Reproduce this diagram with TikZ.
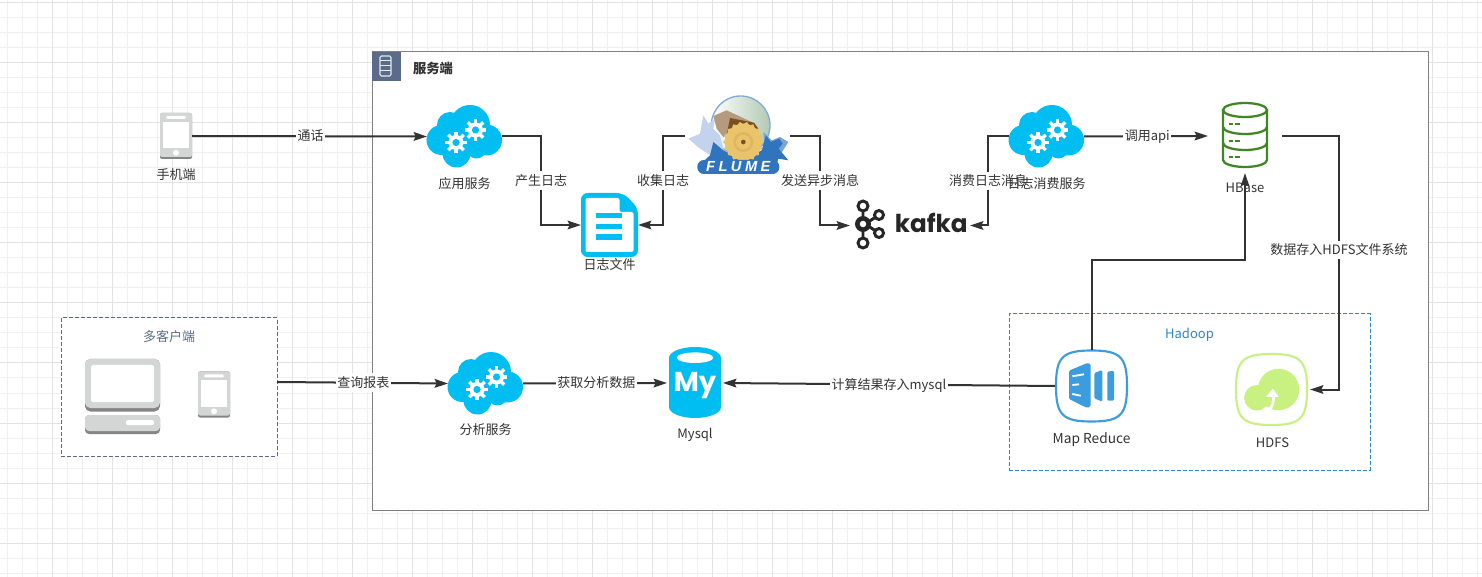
\documentclass[tikz,border=0pt]{standalone}
\usepackage{fontspec}
\setmainfont{Noto Sans CJK SC}
\newfontfamily\logofont{Liberation Sans}
\newfontfamily\kafkafont{Poppins}
\usepackage{xcolor}
\usepackage{tikz}
\usetikzlibrary{arrows.meta, positioning, calc}
\definecolor{cloudblue}{HTML}{00BEF2}
\definecolor{slateblue}{HTML}{5A6C8A}
\definecolor{linegrey}{HTML}{333333}
\definecolor{phonegrey}{HTML}{D4D5D5}
\definecolor{phonedark}{HTML}{858585}
\definecolor{hbasegreen}{HTML}{3F8624}
\definecolor{hadoopblue}{HTML}{2C88C9}
\definecolor{mrblue}{HTML}{3B9DDD}
\definecolor{hdfsgreen}{HTML}{C9F182}
\definecolor{flumeblue}{HTML}{2F74BD}
\definecolor{flumepale}{HTML}{C3D3EE}
\definecolor{flumetan}{HTML}{B59A7D}
\definecolor{flumebark}{HTML}{7A4F22}
\definecolor{flumewood}{HTML}{E9C46A}
\def\px{0.75pt}

\tikzset{
  gearicon/.pic={
    \fill[white] (0,0) circle (7.5);
    \foreach \a in {0,45,...,315} \draw[white, line width=2.4pt] (\a:6) -- (\a:10.8);
    \fill[cloudblue] (0,0) circle (3.6);
  },
  cloudicon/.pic={
    \foreach \cx/\cy/\cr in {5.5/-11.5/20, -14.5/-11.5/13, -23/3.5/15, 22/3.5/15.5, -8/17/14, 12/12/10}
      \fill[cloudblue] (\cx,\cy) circle (\cr);
    \fill[cloudblue] (-18,-8) rectangle (22,14);
    \pic at (-8.5,6) {gearicon};
    \pic at (11,-6.5) {gearicon};
  },
  phoneicon/.pic={
    \fill[phonedark, rounded corners=1.5pt] (-16,-23) rectangle (16,23);
    \fill[phonegrey, rounded corners=1.5pt] (-16,-23) rectangle (16,21);
    \fill[white] (-13,-14.3) rectangle (13,12.3);
    \fill[white, rounded corners=1pt] (-10,-20) rectangle (10,-17);
    \fill[white] (0,16.8) circle (3);
  },
  squircle/.pic={
    \draw[line width=1.6pt, pic actions] (0,-35.5) .. controls (29,-35.5) and (35.5,-29) .. (35.5,0)
      .. controls (35.5,29) and (29,35.5) .. (0,35.5) .. controls (-29,35.5) and (-35.5,29) .. (-35.5,0)
      .. controls (-35.5,-29) and (-29,-35.5) .. (0,-35.5) -- cycle;
  },
}

\begin{document}
\begin{tikzpicture}[
    x=\px, y=-\px,
    font=\fontsize{9.75pt}{12pt}\selectfont,
    gridminor/.style={draw=black!6, line width=\px},
    gridmajor/.style={draw=black!11, line width=\px},
    iconspot/.style 2 args={minimum width=#1*\px, minimum height=#2*\px, inner sep=0pt, outer sep=0pt},
    txt/.style={text=linegrey, inner sep=0pt, outer sep=0pt, text height=9.5pt, text depth=2.5pt, align=center},
    lbl/.style={txt, fill=white, inner sep=1pt},
    arr/.style={-{Stealth[length=10pt, width=6.5pt, inset=1.5pt]}, line width=1.5pt, linegrey},
]
\useasboundingbox (0,0) rectangle (1482,577);

% background grid
\foreach \x in {7,22,...,1477} \draw[gridminor] (\x,0) -- (\x,577);
\foreach \y in {3,18,...,573} \draw[gridminor] (0,\y) -- (1482,\y);
\foreach \x in {52,112,...,1462} \draw[gridmajor] (\x,0) -- (\x,577);
\foreach \y in {3,63,...,543} \draw[gridmajor] (0,\y) -- (1482,\y);

% frames
\node[iconspot={1056}{458}, draw=black!50, line width=\px, fill=white] (server) at (900,281) {};
\node[iconspot={29}{29}, fill=slateblue] (serverhead) at (386.5,66.5) {};
\draw[white!85!slateblue, line width=.8pt, rounded corners=1pt] (380,56) rectangle (391,76);
\foreach \y in {60,65,70} \draw[white!85!slateblue, line width=.7pt] (380,\y) -- (391,\y);
\node[txt, right=9pt of serverhead, yshift=-1.8pt, font=\bfseries] (serverlabel) {服务端};

\node[iconspot={216}{138}, draw=slateblue, line width=\px, dash pattern=on 3pt off 1.5pt, fill=white] (clients) at (169,387) {};
\node[txt, text=slateblue, below=8pt of clients.north] (clientslabel) {多客户端};
\node[iconspot={361}{156}, draw=hadoopblue, line width=\px, dash pattern=on 3pt off 1.5pt] (hadoop) at (1189.5,392) {};
\node[txt, text=hadoopblue, below=8.8pt of hadoop.north] (hadooplabel) {Hadoop};

% icon places
\node[iconspot={32}{46}] (phone) at (176,136) {};
\node[iconspot={75}{63}] (appsvc) at (464.5,136.5) {};
\node[iconspot={57}{64}] (logdoc) at (609.5,225) {};
\node[iconspot={105}{78}] (flume) at (737.5,136) {};
\node[iconspot={120}{54}] (kafka) at (910,225.5) {};
\node[iconspot={75}{63}] (logcons) at (1046.5,136.5) {};
\node[iconspot={74}{74}] (hbase) at (1245,136) {};
\node[iconspot={75}{63}] (anasvc) at (485.5,383.5) {};
\node[iconspot={56}{70}] (mysql) at (695,383) {};
\node[iconspot={73}{71}] (mapred) at (1091.5,386) {};
\node[iconspot={75}{71}] (hdfs) at (1272.5,389.5) {};

\pic at (phone) {phoneicon};
\pic at (214,394.5) {phoneicon};
\pic at (appsvc) {cloudicon};
\pic at (logcons) {cloudicon};
\pic at (anasvc) {cloudicon};

% desktop
\begin{scope}[shift={(122.5,396.5)}]
\fill[phonedark, rounded corners=4pt] (-37.5,-37.5) rectangle (37.5,15);
\fill[phonegrey, rounded corners=4pt] (-37.5,-37.5) rectangle (37.5,11.5);
\fill[white, rounded corners=1.5pt] (-31.5,-31.5) rectangle (31.5,5.5);
\fill[phonedark, rounded corners=3pt] (-37.5,18.5) rectangle (37.5,37.5);
\fill[phonegrey, rounded corners=3pt] (-37.5,18.5) rectangle (37.5,34.5);
\fill[white, rounded corners=1.5pt] (3.5,23.5) rectangle (31.5,28.5);
\end{scope}

% log file
\begin{scope}[shift={(logdoc)}]
\fill[cloudblue, rounded corners=5pt] (-28.5,-32) -- (14,-32) -- (28.5,-17) -- (28.5,32) -- (-28.5,32) -- cycle;
\fill[white, rounded corners=1.5pt] (-24,-27) -- (10,-27) -- (10,-13) -- (24,-13) -- (24,27) -- (-24,27) -- cycle;
\foreach \y in {-12,-1,9.5} \fill[cloudblue] (-13.5,\y) rectangle (12.5,\y+5.5);
\end{scope}

% flume logo
\begin{scope}[shift={(flume)}]
\begin{scope}[shift={(-57.5,-44)}, x=\px/3, y=-\px/3]
\shade[left color=white, right color=green!30!black!30, draw=flumeblue!60, line width=1pt] (182,100) circle (88);
\fill[flumepale] (25,140) -- (60,125) -- (70,70) -- (85,95) -- (105,80) -- (100,110) -- (120,130) -- (135,190) -- (100,195) -- (60,170) -- cycle;
\fill[flumetan] (100,72) -- (140,55) -- (215,90) -- (130,135) -- (110,110) -- cycle;
\fill[flumebark] (150,78) -- (222,92) -- (235,110) -- (140,130) -- cycle;
\fill[flumeblue!65!white] (250,120) -- (275,145) -- (300,135) -- (325,150) -- (300,190) -- (255,190) -- cycle;
\fill[flumeblue] (100,150) -- (130,175) -- (190,205) -- (245,175) -- (258,130) -- (272,150) -- (298,140) -- (308,155) -- (296,170) -- (325,205) -- (295,200) -- (290,218) -- (60,218) -- (90,190) -- cycle;
\fill[flumewood] (190,150) circle (55);
\foreach \a in {0,20,...,340} \fill[flumewood] ($(190,150)+(\a-9:54)$) -- ($(190,150)+(\a:61)$) -- ($(190,150)+(\a+9:54)$) -- cycle;
\draw[flumewood!80!brown, line width=2pt] (190,150) circle (26);
\fill[flumebark] (190,150) circle (7);
\end{scope}
\node[iconspot={82}{14}, fill=flumeblue, rounded corners=5pt, text=white, font=\logofont\bfseries\itshape\fontsize{11pt}{11pt}\selectfont] (flumename) at (0.8,31) {F\hspace{2.6pt}L\hspace{2.6pt}U\hspace{2.6pt}M\hspace{2.6pt}E};
\end{scope}

% kafka logo
\begin{scope}[shift={(kafka)}]
\foreach \a/\b in {-47/-19.5, -47/-1.5, -47/17.5} \draw[black!85, line width=2.2pt] (\a,\b) circle (5);
\draw[black!85, line width=2.6pt] (-47,-1.5) circle (6.2);
\foreach \b in {-10.5,7.5} \draw[black!85, line width=2.2pt] (-31,\b) circle (4.5);
\draw[black!85, line width=2.2pt] (-47,-14.5) -- (-47,-7.5) (-47,4.5) -- (-47,12.5) (-41,-4) -- (-35,-8) (-41,1) -- (-35,5);
\node[text=black!85, inner sep=0pt, font=\kafkafont\bfseries\fontsize{18.5pt}{18.5pt}\selectfont, anchor=base west] (kafkaname) at (-15.5,7.5) {kafka};
\end{scope}

% hbase
\begin{scope}[shift={(hbase)}, hbasegreen, line width=1.7pt]
\draw (0,-26) ellipse (22 and 7);
\draw (-22,-26) -- (-22,24) arc[start angle=180, end angle=0, x radius=22, y radius=7] -- (22,-26);
\foreach \y in {-9,7} \draw (-22,\y) arc[start angle=180, end angle=0, x radius=22, y radius=7];
\foreach \y in {-12,4.7,21.3} \draw (-16.5,\y) -- (-12,\y) (-10,\y) -- (-5,\y);
\end{scope}

% mysql
\begin{scope}[shift={(mysql)}]
\fill[cloudblue] (-26,-25) rectangle (26,24);
\fill[cloudblue] (0,-25) ellipse (26 and 11);
\fill[cloudblue] (0,24) ellipse (26 and 11);
\fill[white] (0,-25.3) ellipse (18.3 and 5.3);
\node[text=white, inner sep=0pt, font=\kafkafont\bfseries\fontsize{20.5pt}{20.5pt}\selectfont, anchor=base] (mylogo) at (0,9) {My};
\end{scope}

% map reduce
\begin{scope}[shift={(mapred)}]
\pic[mrblue] {squircle};
\fill[mrblue, rounded corners=1pt] (-22.5,-15.3) -- (-4.2,-23) -- (-0.8,-22) -- (-0.8,20.3) -- (-4.2,22) -- (-22.5,13) -- cycle;
\fill[mrblue, rounded corners=1pt] (2.8,-13) -- (10.8,-16) -- (10.8,15.7) -- (2.8,12.3) -- cycle;
\fill[mrblue, rounded corners=1pt] (15.8,-14.3) -- (22.5,-15.3) -- (22.5,14.7) -- (15.8,14.7) -- cycle;
\draw[white, line width=1.4pt] (-19.2,-9.7) -- (-7.5,-11.7) (-19.2,-1) -- (-12.5,-1.7) (-19.2,8) -- (-10.8,9.7);
\end{scope}

% hdfs
\begin{scope}[shift={(hdfs)}]
\pic[hdfsgreen] at (-1,0) {squircle};
\fill[hdfsgreen] (6,0) circle (20.7) (-15.7,8.3) circle (12.7);
\draw[white, line width=2pt] (-4,20) .. controls (1,17) and (1,12) .. (1,5);
\fill[white] (-6.3,7.3) -- (6,7.3) -- (0.3,-1) -- cycle;
\end{scope}

% icon captions
\node[txt, below=5.8pt of phone] (phonelabel) {手机端};
\node[txt, below=5.8pt of appsvc] (appsvclabel) {应用服务};
\node[txt, below=0pt of logdoc] (logdoclabel) {日志文件};
\node[txt, below=5pt of anasvc] (anasvclabel) {分析服务};
\node[txt, below=5.8pt of mysql] (mysqllabel) {Mysql};
\node[txt, below=6.9pt of mapred, font=\fontsize{10.3pt}{12pt}\selectfont] (mapredlabel) {Map Reduce};
\node[txt, below=7.3pt of hdfs] (hdfslabel) {HDFS};
\node[txt, below=5pt of hbase] (hbaselabel) {HBase};

% connectors
\draw[arr] (phone.east) -- (appsvc.west) node[lbl, pos=0.505] {通话};
\draw[arr] (appsvc.east) -- ++(39,0) |- (logdoc.west) node[lbl, pos=0.25] {产生日志};
\draw[arr] (flume.west) -- ++(-22,0) |- (logdoc.east) node[lbl, pos=0.25] {收集日志};
\draw[arr] (flume.east) -- ++(30,0) |- (kafka.west) node[lbl, pos=0.25] {发送异步消息};
\draw[arr] (logcons.west) -- ++(-21,0) |- (kafka.east) node[lbl, pos=0.25] {消费日志消息};
\draw[arr] (logcons.east) -- (hbase.west) node[lbl, pos=0.51] {调用api};
\draw[arr] (hbase.east) -- ++(57,0) |- (hdfs.east) node[lbl, pos=0.225] {数据存入HDFS文件系统};
\draw[arr] (mapred.north) -- ++(0,-90) -| (hbase.south);
\draw[arr] ([yshift=3.75pt]clients.east) -- (anasvc.west) node[lbl, pos=0.505] {查询报表};
\draw[arr] (anasvc.east) -- (mysql.west) node[lbl, pos=0.51] {获取分析数据};
\draw[arr] (mapred.west) -- (mysql.east) node[lbl, pos=0.5] {计算结果存入mysql};

% this caption sits over the connector label next to it
\node[txt, below=5.8pt of logcons] (logconslabel) {日志消费服务};
\end{tikzpicture}
\end{document}
